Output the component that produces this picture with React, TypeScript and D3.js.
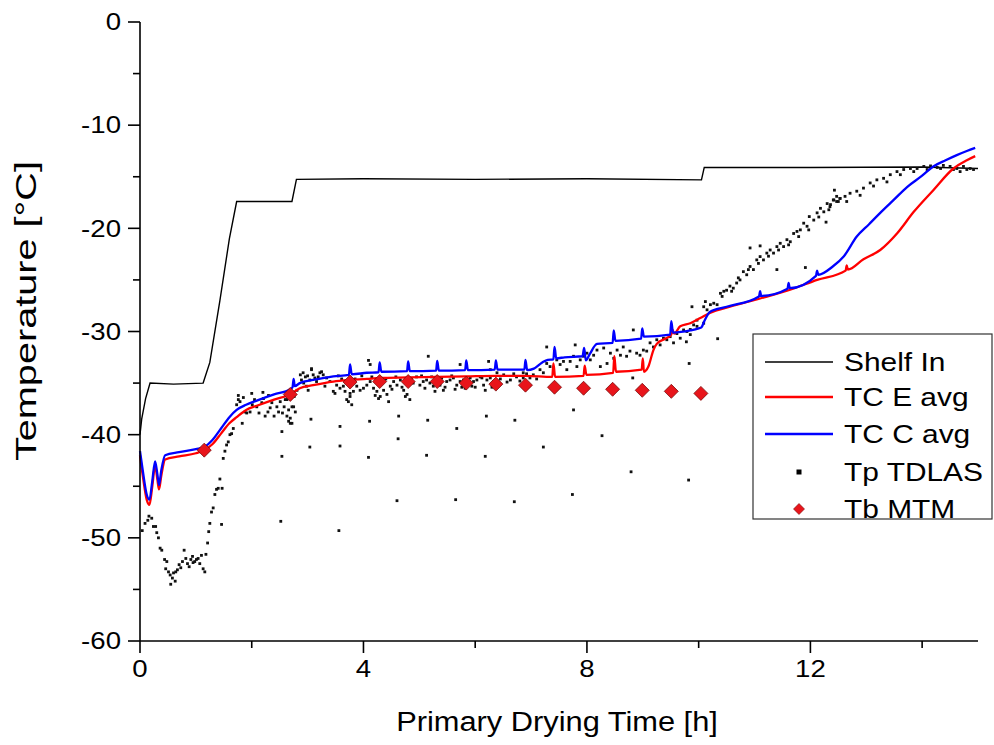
import React from "react";
import * as d3 from "d3";

// ---------- data ----------
const xTicks = [0, 4, 8, 12];
const xMinorTicks = [2, 6, 10, 14];
const yTicks = [0, -10, -20, -30, -40, -50, -60];
const yMinorTicks = [-5, -15, -25, -35, -45, -55];

const xTitle = "Primary Drying Time [h]";
const yTitle = "Temperature [°C]";

const shelfIn: [number, number][] = [
  [0, -40], [0.03, -38.5], [0.1, -36.5], [0.18, -35], [0.6, -35.1], [1.13, -35],
  [1.25, -33], [1.43, -27], [1.6, -21], [1.73, -17.4], [2.2, -17.4], [2.72, -17.4],
  [2.8, -15.25], [4, -15.2], [6, -15.25], [8, -15.2], [10.05, -15.3],
  [10.1, -14.1], [12, -14.1], [14, -14.05], [15, -14.2],
];

const tcEavg: [number, number][] = [
  [0, -42.0], [0.05, -44.0], [0.12, -46.3], [0.17, -46.8], [0.22, -45.0], [0.27, -43.0],
  [0.31, -44.3], [0.34, -45.3], [0.38, -44.0], [0.45, -42.4], [0.7, -42.1], [1.0, -41.8],
  [1.15, -41.5], [1.3, -40.9], [1.45, -39.9], [1.6, -38.9], [1.73, -38.3], [1.9, -37.6],
  [2.09, -37.2], [2.4, -36.6], [2.69, -36.1], [2.86, -35.5], [3.1, -35.2], [3.46, -34.85],
  [3.76, -34.7], [4.06, -34.6], [4.29, -34.5], [4.8, -34.45], [5.32, -34.4], [5.84, -34.35],
  [6.37, -34.3], [6.9, -34.3], [7.38, -34.4], [7.4, -33.1], [7.43, -34.4], [7.94, -34.3],
  [7.96, -33.3], [7.99, -34.2], [8.47, -34.0], [8.49, -32.4], [8.52, -33.9], [8.98, -33.7],
  [9.0, -32.6], [9.02, -33.9], [9.1, -33.4], [9.19, -31.8], [9.25, -31.2], [9.4, -30.7],
  [9.51, -30.3], [9.53, -29.8], [9.56, -30.2], [9.67, -29.5], [9.85, -29.2], [10.03, -28.7],
  [10.2, -28.2], [10.56, -27.6], [11.1, -26.8], [11.61, -26.0], [12.12, -25.0],
  [12.63, -24.1], [12.65, -23.6], [12.67, -24.0], [12.95, -23.0], [13.25, -22.1],
  [13.55, -20.5], [13.85, -18.4], [14.2, -16.3], [14.56, -14.2], [14.8, -13.4], [14.95, -13.0],
];

const tcCavg: [number, number][] = [
  [0, -41.6], [0.05, -43.5], [0.12, -45.8], [0.17, -46.3], [0.22, -44.5], [0.27, -42.6],
  [0.31, -43.8], [0.34, -44.9], [0.38, -43.5], [0.45, -42.0], [0.7, -41.7], [1.0, -41.4],
  [1.15, -41.2], [1.3, -40.5], [1.45, -39.4], [1.6, -38.3], [1.73, -37.6], [1.9, -37.1],
  [2.09, -36.7], [2.4, -36.1], [2.69, -35.6], [2.73, -35.4], [2.75, -34.6], [2.77, -35.3],
  [2.86, -35.0], [3.1, -34.7], [3.46, -34.35], [3.74, -34.2], [3.76, -33.2], [3.79, -34.15],
  [4.06, -34.0], [4.27, -33.95], [4.29, -33.0], [4.32, -33.9], [4.78, -33.85], [4.8, -32.9],
  [4.83, -33.85], [5.3, -33.8], [5.32, -32.85], [5.35, -33.8], [5.82, -33.75], [5.84, -32.8],
  [5.87, -33.75], [6.35, -33.7], [6.37, -32.8], [6.4, -33.7], [6.88, -33.7], [6.9, -32.75],
  [6.93, -33.75], [7.05, -33.6], [7.2, -33.0], [7.3, -32.75], [7.4, -32.7], [7.42, -31.5],
  [7.45, -32.6], [7.6, -32.5], [7.92, -32.4], [7.95, -31.6], [7.98, -32.8], [8.05, -32.2],
  [8.18, -31.2], [8.46, -31.1], [8.48, -29.9], [8.51, -30.9], [8.97, -30.7], [8.99, -29.7],
  [9.02, -30.5], [9.49, -30.3], [9.51, -29.0], [9.54, -30.1], [9.85, -29.9], [10.0, -29.7],
  [10.05, -29.6], [10.1, -29.0], [10.2, -28.1], [10.5, -27.6], [11.08, -26.6], [11.1, -26.1],
  [11.12, -26.55], [11.59, -25.85], [11.61, -25.3], [11.63, -25.8], [12.1, -24.6],
  [12.12, -24.1], [12.14, -24.5], [12.4, -23.7], [12.6, -22.7], [12.83, -20.8], [13.05, -19.6],
  [13.25, -18.5], [13.5, -17.2], [13.73, -16.0], [14.0, -14.9], [14.2, -14.0], [14.42, -13.4],
  [14.62, -12.9], [14.8, -12.5], [14.95, -12.2],
];

const tbMTM: [number, number][] = [
  [1.15, -41.5], [2.69, -36.1], [3.76, -34.9], [4.29, -34.85], [4.8, -34.85], [5.32, -34.85],
  [5.84, -35.0], [6.37, -35.1], [6.9, -35.2], [7.42, -35.4], [7.94, -35.5], [8.46, -35.6],
  [8.99, -35.7], [9.51, -35.8], [10.04, -36.0],
];

const tpTDLAS: [number, number][] = [
  // early drop and recovery
  [0.04, -49.3], [0.09, -48.6], [0.14, -48.3], [0.16, -47.9], [0.21, -48.1], [0.24, -48.9],
  [0.28, -48.9], [0.3, -49.5], [0.33, -50.0], [0.36, -51.0], [0.39, -51.2], [0.44, -52.1],
  [0.46, -53.0], [0.48, -52.3], [0.51, -53.3], [0.54, -53.6], [0.55, -54.5], [0.58, -53.9],
  [0.6, -53.4], [0.63, -54.2], [0.64, -53.3], [0.67, -53.1], [0.7, -52.6], [0.73, -52.9],
  [0.76, -52.3], [0.79, -51.2], [0.82, -52.0], [0.85, -52.5], [0.88, -52.8], [0.91, -52.1],
  [0.94, -51.8], [0.95, -52.4], [0.98, -52.3], [1.01, -52.1], [1.04, -52.0], [1.07, -52.5],
  [1.1, -51.7], [1.13, -53.0], [1.16, -53.3], [1.18, -51.6], [1.21, -50.5], [1.23, -49.4],
  [1.25, -48.6], [1.28, -47.5], [1.31, -47.1], [1.34, -45.8], [1.37, -45.3], [1.4, -45.2],
  [1.43, -44.3], [1.46, -48.7], [1.47, -45.2], [1.49, -42.3], [1.52, -41.6], [1.55, -41.0],
  [1.58, -40.7], [1.61, -40.0], [1.64, -39.9], [1.67, -39.4], [1.73, -37.1], [1.76, -36.6],
  [1.79, -36.8], [1.83, -38.9], [1.88, -37.8], [1.91, -37.9], [1.97, -37.8], [2.01, -37.1],
  [2.05, -36.6], [2.09, -37.3], [2.13, -37.9], [2.18, -36.9], [2.21, -36.5], [2.24, -38.2],
  [2.29, -37.8], [2.33, -37.4], [2.36, -36.9], [2.4, -38.2], [2.45, -37.3], [2.48, -37.8],
  [2.51, -36.8], [2.55, -37.9], [2.58, -37.3], [2.63, -38.2], [2.66, -38.7], [2.69, -38.9],
  [2.72, -37.3], [2.76, -36.3], [2.81, -35.7], [1.76, -36.2], [1.85, -36.4], [2.0, -36.0],
  [2.2, -35.9], [2.3, -36.2], [2.6, -36.6],
  // plateau band
  [2.63, -36.6], [2.66, -37.6], [2.69, -38.4], [2.72, -38.9], [2.75, -37.3], [2.78, -37.8],
  [2.87, -34.2], [2.89, -34.7], [2.93, -35.0], [2.96, -34.4], [2.98, -35.3], [3.01, -35.7],
  [3.04, -34.7], [3.07, -33.7], [3.1, -34.2], [3.13, -34.5], [3.16, -34.85], [3.19, -34.4],
  [3.22, -34.0], [3.28, -34.2], [3.34, -34.5], [3.4, -34.85], [3.46, -35.8], [3.49, -36.0],
  [3.52, -35.2], [3.58, -35.5], [3.64, -35.3], [3.67, -35.8], [3.7, -36.6], [3.73, -36.8],
  [3.76, -36.3], [3.79, -37.1], [3.76, -36.0], [3.82, -35.8], [3.88, -35.3], [3.94, -35.7],
  [4.0, -35.5], [4.06, -35.2], [4.12, -34.85], [4.18, -35.5], [4.24, -35.8], [4.27, -36.5],
  [4.3, -36.3], [4.36, -35.7], [4.42, -36.1], [4.45, -36.8], [4.48, -35.3], [4.54, -34.85],
  [4.6, -35.2], [4.66, -34.7], [4.72, -35.7], [4.75, -36.3], [4.78, -36.1], [4.83, -36.6],
  [4.89, -35.0], [4.95, -34.4], [5.01, -35.2], [5.07, -34.85], [5.13, -34.7], [5.19, -35.0],
  [5.25, -35.3], [5.31, -34.85], [5.37, -35.2], [5.43, -35.7], [5.49, -34.85], [5.55, -34.7],
  [5.61, -34.5], [5.67, -35.2], [5.73, -34.85], [5.79, -34.7], [5.85, -35.0], [5.91, -34.5],
  [5.97, -34.85], [6.03, -34.7], [6.09, -34.4], [6.15, -35.2], [6.21, -34.7], [6.27, -34.5],
  [6.33, -34.85], [3.07, -33.6], [4.09, -32.8], [4.12, -33.2], [5.16, -32.4], [5.73, -33.2],
  [6.24, -32.9], [2.92, -34.0], [3.0, -34.3], [3.25, -33.9], [3.55, -34.3], [3.85, -34.6],
  [3.97, -34.3], [4.15, -34.4], [4.4, -34.6], [4.58, -34.4], [4.86, -34.6], [5.04, -34.3],
  [5.22, -34.4], [5.4, -34.5], [5.58, -34.3], [5.76, -35.4], [5.94, -35.3], [6.12, -34.5],
  [6.3, -35.4], [3.31, -35.3], [3.61, -34.6], [4.21, -36.2], [4.51, -35.6], [4.69, -35.4],
  [5.1, -35.5], [5.28, -35.8], [5.46, -35.4], [5.64, -35.6], [5.82, -35.5], [6.0, -35.4],
  [6.18, -35.7],
  // later band
  [6.27, -33.7], [6.39, -34.0], [6.51, -34.2], [6.63, -34.7], [6.74, -34.4], [6.86, -34.0],
  [6.86, -34.5], [6.98, -34.5], [7.04, -34.2], [7.16, -33.7], [7.28, -33.1], [7.34, -33.4],
  [7.4, -34.0], [7.46, -32.75], [7.58, -32.9], [7.64, -33.7], [7.76, -32.4], [7.82, -33.4],
  [7.88, -32.75], [8.0, -32.1], [8.06, -32.75], [8.18, -31.8], [8.24, -33.4], [8.3, -31.6],
  [8.36, -33.1], [8.42, -32.1], [8.54, -31.8], [8.65, -31.5], [8.77, -31.9], [8.89, -32.1],
  [9.01, -31.8], [9.13, -31.1], [9.25, -30.8], [9.37, -30.65], [9.49, -30.5], [9.61, -30.2],
  [9.73, -29.85], [9.85, -30.3], [9.97, -29.5], [10.09, -29.2], [7.28, -31.5], [7.79, -31.3],
  [8.83, -29.85], [7.52, -33.2], [7.7, -32.9], [7.94, -32.4], [8.12, -32.3], [8.48, -32.6],
  [8.6, -32.3], [8.71, -32.4], [8.95, -32.3], [9.07, -31.9], [9.19, -31.5], [9.31, -31.3],
  [9.43, -30.8], [9.55, -31.1], [9.67, -30.65], [9.79, -30.0], [6.45, -34.6], [6.57, -34.9],
  [6.69, -34.1], [6.8, -34.8], [6.92, -34.1], [7.1, -34.6], [7.22, -34.0], [8.82, -34.5],
  [9.83, -33.1],
  // rising band
  [9.85, -29.8], [9.91, -29.36], [9.97, -28.9], [10.09, -27.6], [10.12, -27.1], [10.15, -27.9],
  [10.21, -27.4], [10.27, -27.26], [10.33, -27.4], [10.39, -26.3], [10.45, -26.1], [10.5, -26.0],
  [10.56, -25.6], [10.62, -25.8], [10.68, -25.3], [10.74, -25.0], [10.8, -24.2], [10.86, -24.5],
  [10.92, -23.7], [10.98, -24.0], [11.04, -23.06], [11.1, -22.74], [11.16, -23.06], [11.22, -22.4],
  [11.28, -22.1], [11.34, -22.4], [11.4, -21.77], [11.46, -21.45], [11.52, -21.77], [11.58, -21.1],
  [11.64, -21.3], [11.7, -20.5], [11.76, -20.3], [11.82, -20.15], [11.88, -19.5], [11.94, -19.8],
  [11.98, -18.86], [12.06, -19.2], [12.12, -18.5], [12.18, -18.06], [12.24, -18.4], [12.3, -17.6],
  [12.35, -17.9], [12.41, -17.25], [12.47, -16.9], [12.53, -17.1], [10.42, -26.6], [10.59, -26.1],
  [10.71, -24.8], [10.89, -24.0], [11.07, -23.4], [11.25, -22.7], [11.43, -22.1], [11.61, -21.6],
  [11.79, -20.8], [11.97, -20.15], [12.15, -18.9], [12.33, -18.2], [12.5, -17.4],
  [12.36, -17.7], [12.42, -17.25], [12.47, -17.4], [12.53, -17.1], [12.62, -16.9], [12.71, -16.6],
  [12.83, -16.4], [12.95, -16.1], [13.07, -15.6], [13.19, -15.3], [13.31, -15.15], [13.43, -14.8],
  [13.55, -14.5], [13.67, -14.3], [13.79, -14.2], [13.91, -14.2], [14.03, -14.0], [14.15, -13.95],
  [14.27, -14.1], [14.38, -13.9], [14.5, -14.0], [14.62, -14.2], [14.68, -14.5], [14.74, -14.0],
  [14.86, -14.2], [14.92, -14.3], [12.65, -17.4], [12.89, -16.8], [13.13, -15.9], [13.37, -15.5],
  [13.61, -14.8], [13.85, -14.5], [14.09, -14.3], [14.33, -14.2], [14.56, -14.3], [14.8, -14.3],
  // outliers
  [2.54, -39.7], [2.54, -42.1], [2.52, -48.4], [3.06, -38.5], [3.04, -41.2], [3.58, -39.2],
  [3.58, -41.1], [3.56, -49.3], [4.11, -38.7], [4.09, -42.2], [4.63, -38.2], [4.62, -40.4],
  [4.6, -46.4], [5.15, -38.6], [5.13, -42.0], [5.67, -39.4], [5.65, -46.3], [6.2, -38.2],
  [6.18, -42.1], [6.71, -38.6], [6.7, -46.5], [7.22, -41.2], [7.76, -37.6], [7.74, -45.8],
  [8.27, -40.1], [8.79, -43.6], [9.82, -44.4], [10.34, -30.7], [9.78, -31.0], [9.88, -27.6],
  [10.92, -21.9], [11.1, -21.7], [11.4, -24.0], [11.91, -23.8], [12.28, -19.4], [12.43, -16.3],
];

const legendItems = [
  { label: "Shelf In", kind: "line", color: "#000000" },
  { label: "TC E avg", kind: "line", color: "#ff0000" },
  { label: "TC C avg", kind: "line", color: "#0000ff" },
  { label: "Tp TDLAS", kind: "square", color: "#000000" },
  { label: "Tb MTM", kind: "diamond", color: "#e8151b" },
];

// ---------- layout ----------
const W = 994;
const H = 745;
const left = 140;
const right = 978;
const top = 22;
const bottom = 641;
const font = "Arial, 'Liberation Sans', sans-serif";

export default function App() {
  const x = d3.scaleLinear().domain([0, 15]).range([left, right]);
  const y = d3.scaleLinear().domain([-60, 0]).range([bottom, top]);
  const line = d3
    .line<[number, number]>()
    .x((d) => x(d[0]))
    .y((d) => y(d[1]));
  const smooth = d3
    .line<[number, number]>()
    .x((d) => x(d[0]))
    .y((d) => y(d[1]))
    .curve(d3.curveMonotoneX);

  const diamond = (cx: number, cy: number, r: number) =>
    `M${cx},${cy - r}L${cx + r},${cy}L${cx},${cy + r}L${cx - r},${cy}Z`;

  const legX = 753;
  const legY = 334;
  const rowY = [362, 397, 434, 472, 509];
  const tickSx = 1.2;
  const legSx = 1.15;

  return (
    <svg
      width={W}
      height={H}
      style={{ position: "absolute", left: 0, top: 0, background: "#fff" }}
      fontFamily={font}
    >
      <rect x={0} y={0} width={W} height={H} fill="#fff" />
      {/* series */}
      <path d={line(shelfIn) || ""} fill="none" stroke="#000" strokeWidth={1.4} />
      {tpTDLAS.map((d, i) => (
        <rect key={i} x={x(d[0]) - 1.4} y={y(d[1]) - 1.4} width={2.8} height={2.8} fill="#111" />
      ))}
      <path d={smooth(tcEavg) || ""} fill="none" stroke="#ff0000" strokeWidth={2.3} strokeLinejoin="round" />
      <path d={smooth(tcCavg) || ""} fill="none" stroke="#0000ff" strokeWidth={2.3} strokeLinejoin="round" />
      {tbMTM.map((d, i) => (
        <path key={i} d={diamond(x(d[0]), y(d[1]), 7)} fill="#e8151b" stroke="#7a0a0a" strokeWidth={0.8} />
      ))}

      {/* axes */}
      <line x1={left} x2={left} y1={top} y2={bottom} stroke="#000" strokeWidth={1.6} />
      <line x1={left} x2={right} y1={bottom} y2={bottom} stroke="#000" strokeWidth={1.6} />
      {yTicks.map((t) => (
        <g key={t}>
          <line x1={left - 12} x2={left} y1={y(t)} y2={y(t)} stroke="#000" strokeWidth={1.6} />
          <text
            transform={`translate(${left - 19}, ${y(t)}) scale(${tickSx}, 1)`}
            dy="0.36em"
            textAnchor="end"
            fontSize={23}
          >
            {t}
          </text>
        </g>
      ))}
      {yMinorTicks.map((t) => (
        <line key={t} x1={left - 7} x2={left} y1={y(t)} y2={y(t)} stroke="#000" strokeWidth={1.6} />
      ))}
      {xTicks.map((t) => (
        <g key={t}>
          <line x1={x(t)} x2={x(t)} y1={bottom} y2={bottom + 12} stroke="#000" strokeWidth={1.6} />
          <text
            transform={`translate(${x(t)}, ${bottom + 36}) scale(${tickSx}, 1)`}
            textAnchor="middle"
            fontSize={23}
          >
            {t}
          </text>
        </g>
      ))}
      {xMinorTicks.map((t) => (
        <line key={t} x1={x(t)} x2={x(t)} y1={bottom} y2={bottom + 7} stroke="#000" strokeWidth={1.6} />
      ))}
      <text
        transform={`translate(${(left + right) / 2 - 2}, 731) scale(1.1, 1)`}
        textAnchor="middle"
        fontSize={28}
      >
        {xTitle}
      </text>
      <text
        transform={`translate(36, 311) rotate(-90)`}
        textAnchor="middle"
        fontSize={29}
        textLength={300}
        lengthAdjust="spacingAndGlyphs"
      >
        {yTitle}
      </text>

      {/* legend */}
      <rect x={legX} y={legY} width={239} height={185} fill="#fff" stroke="#333" strokeWidth={1.2} />
      {legendItems.map((it, i) => (
        <g key={it.label}>
          {it.kind === "line" && (
            <line x1={765} x2={833} y1={rowY[i]} y2={rowY[i]} stroke={it.color} strokeWidth={it.color === "#000000" ? 1.4 : 2.3} />
          )}
          {it.kind === "square" && (
            <rect x={799 - 2.5} y={rowY[i] - 2.5} width={5} height={5} fill="#000" />
          )}
          {it.kind === "diamond" && (
            <path d={diamond(799, rowY[i], 5.5)} fill={it.color} stroke="#7a0a0a" strokeWidth={0.6} />
          )}
          <text
            transform={`translate(844, ${rowY[i]}) scale(${legSx}, 1)`}
            dy="0.36em"
            fontSize={26}
          >
            {it.label}
          </text>
        </g>
      ))}
    </svg>
  );
}
